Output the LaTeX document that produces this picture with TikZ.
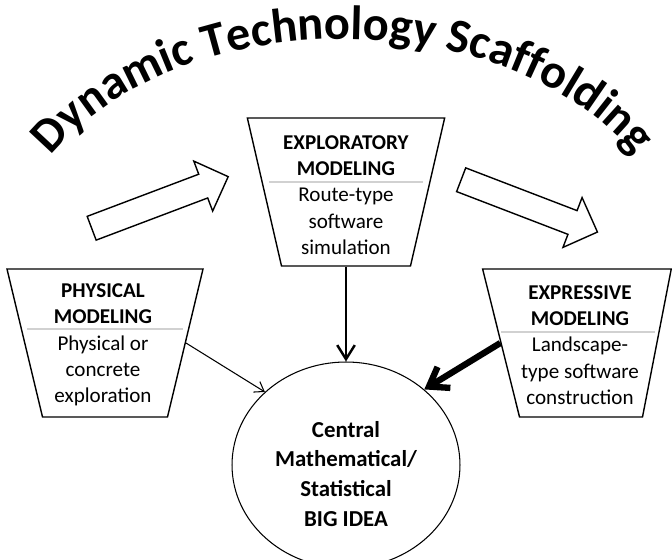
\documentclass[tikz,border=0pt]{standalone}
\usepackage{fontspec}
\setmainfont{Carlito}
\usetikzlibrary{shapes.geometric,shapes.arrows,arrows.meta,calc,decorations.text}

\begin{document}
\begin{tikzpicture}[x=0.02cm,y=0.02cm,
	box/.style={draw, line width=0.8pt, trapezium, shape border rotate=180, inner ysep=1.48cm},
	boxtext/.style={align=center, inner sep=0, font=\fontsize{12}{15}\selectfont},
	flow/.style={draw, line width=0.8pt, single arrow, single arrow head extend=0.28cm, inner xsep=0, inner ysep=0.24cm, minimum height=2.92cm, anchor=tail},
	divider/.style={black!18, line width=1.2pt}]
	\useasboundingbox (0,0) rectangle (672,560);

	\path[decorate, decoration={text along path, text align=center,
		text={|\fontsize{27.5}{32}\selectfont\bfseries|Dynamic Technology Scaffolding}}]
		(10,296) arc[start angle=180, end angle=0, x radius=333, y radius=225];

	\node[box, inner xsep=1.29cm, trapezium left angle=77, trapezium right angle=77] (expl) at (346,368) {};
	\node[box, inner xsep=1.25cm, trapezium left angle=76.5, trapezium right angle=76.5] (phys) at (105,217) {};
	\node[box, inner xsep=1.23cm, trapezium left angle=79, trapezium right angle=76] (expr) at (581,217) {};
	\node[draw, line width=0.6pt, ellipse, minimum width=4.56cm, minimum height=4.12cm] (idea) at (346,95) {};

	\node[boxtext] (t1) at ($(expl.center)+(0,-3)$) {\textbf{EXPLORATORY}\\\textbf{MODELING}\\Route-type\\software\\simulation};
	\node[boxtext] (t2) at ($(phys.center)+(-2,-2)$) {\textbf{PHYSICAL}\\\textbf{MODELING}\\Physical or\\concrete\\exploration};
	\node[boxtext] (t3) at ($(expr.center)+(-1,-2)$) {\textbf{EXPRESSIVE}\\\textbf{MODELING}\\Landscape-\\type software\\construction};
	\node[boxtext, font=\fontsize{13}{17}\selectfont\bfseries] (t4) at ($(idea.center)+(0,-9)$) {Central\\Mathematical/\\Statistical\\BIG IDEA};

	\draw[divider] ($(expl.center)+(-77,10)$) -- ++(154,0);
	\draw[divider] ($(phys.center)+(-78,14)$) -- ++(156,0);
	\draw[divider] ($(expr.center)+(-80,11)$) -- ++(154,0);

	\node[flow, rotate=20.7] (a1) at (91,331.5) {};
	\node[flow, rotate=-21] (a2) at (460.5,380.5) {};

	\draw[-{Straight Barb[length=5pt,width=7pt]}, line width=0.6pt] (phys.east) -- (idea.138);
	\draw[-{Straight Barb[length=8pt,width=10pt]}, line width=1.4pt] (expl.south) -- (idea.north);
	\draw[-{Straight Barb[length=10pt,width=14pt]}, line width=3.6pt] (expr.west) -- (idea.44);
\end{tikzpicture}
\end{document}
